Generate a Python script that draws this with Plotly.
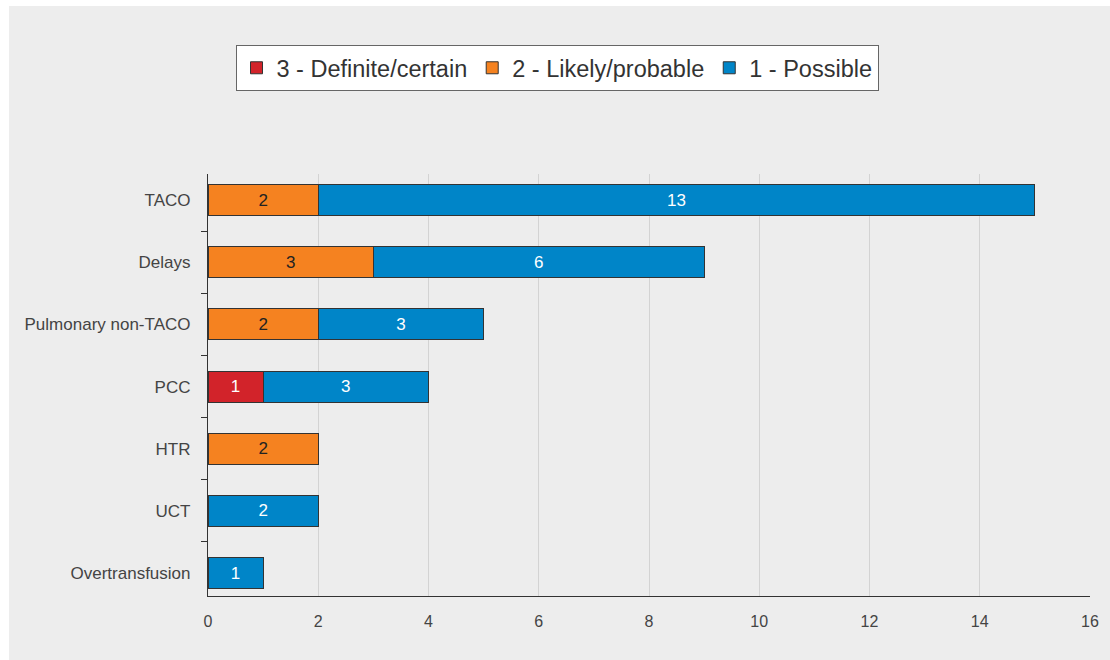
import plotly.graph_objects as go

# Categories listed bottom to top
categories = ["Overtransfusion", "UCT", "HTR", "PCC", "Pulmonary non-TACO", "Delays", "TACO"]

definite = [None, None, None, 1, None, None, None]
likely = [None, None, 2, None, 2, 3, 2]
possible = [1, 2, None, 3, 3, 6, 13]

series = [
    ("3 - Definite/certain", definite, "#d2232a", "#ffffff"),
    ("2 - Likely/probable", likely, "#f58220", "#222222"),
    ("1 - Possible", possible, "#0085c8", "#ffffff"),
]

FONT = "Liberation Sans, Arial, sans-serif"

fig = go.Figure()
for name, vals, color, txtcolor in series:
    fig.add_trace(go.Bar(
        y=categories,
        x=vals,
        name=name,
        orientation="h",
        width=0.5,
        marker=dict(color=color, line=dict(color="#333333", width=1)),
        texttemplate="%{x}",
        textposition="inside",
        insidetextanchor="middle",
        textangle=0,
        constraintext="none",
        textfont=dict(family=FONT, size=17, color=txtcolor),
        hoverinfo="skip",
    ))

W, H = 1110, 660
L, R, T, B = 208, 20, 174, 64
pw, ph = W - L - R, H - T - B

def px(x):
    return (x - L) / pw

def py(y):
    return (H - B - y) / ph

fig.update_layout(
    width=W,
    height=H,
    barmode="stack",
    paper_bgcolor="#ededed",
    plot_bgcolor="#ededed",
    margin=dict(l=L, r=R, t=T, b=B, pad=0),
    font=dict(family=FONT, size=17, color="#444444"),
    showlegend=True,
    legend=dict(
        orientation="h",
        x=px(557), xanchor="center",
        y=py(45), yanchor="top",
        bgcolor="#ffffff",
        bordercolor="#666666",
        borderwidth=1,
        font=dict(family=FONT, size=23.5, color="#333333"),
        traceorder="normal",
    ),
    xaxis=dict(
        range=[0, 16],
        dtick=2,
        showgrid=True,
        gridcolor="#d3d3d3",
        gridwidth=1,
        zeroline=False,
        showline=True,
        linecolor="#333333",
        linewidth=1.2,
        ticks="outside",
        ticklen=11,
        tickcolor="rgba(0,0,0,0)",
        tickfont=dict(size=16, color="#444444"),
    ),
    yaxis=dict(
        range=[-0.37, 6.42],
        showgrid=False,
        zeroline=False,
        showline=True,
        linecolor="#333333",
        linewidth=1.2,
        ticks="outside",
        tickson="boundaries",
        ticklen=6,
        tickcolor="#333333",
        ticklabelstandoff=13,
        tickfont=dict(size=17, color="#444444"),
    ),
    shapes=[
        dict(type="rect", xref="paper", yref="paper", layer="above",
             x0=px(0), x1=px(W), y0=py(0), y1=py(6),
             fillcolor="#ffffff", line=dict(width=0)),
        dict(type="rect", xref="paper", yref="paper", layer="above",
             x0=px(0), x1=px(9), y0=py(0), y1=py(H),
             fillcolor="#ffffff", line=dict(width=0)),
    ],
)

fig.write_html("out.html")
